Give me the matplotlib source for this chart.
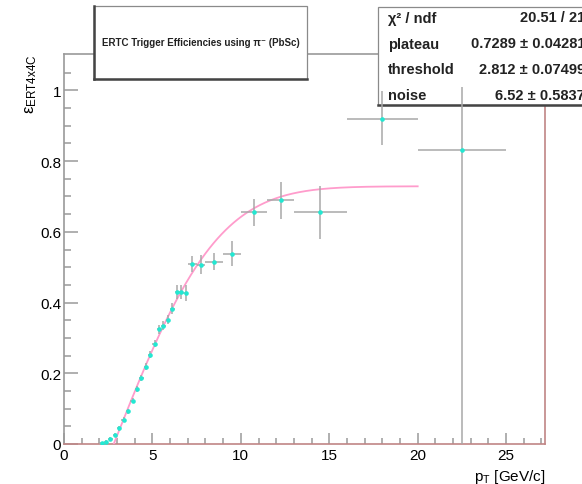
import numpy as np
import matplotlib; matplotlib.use("Agg")
import matplotlib.pyplot as plt
from matplotlib.patches import Rectangle
from matplotlib.lines import Line2D
from math import erf

plt.rcParams.update({"font.family": ["Liberation Sans", "DejaVu Sans"],
                     "mathtext.fontset": "custom", "mathtext.rm": "Liberation Sans",
                     "mathtext.it": "Liberation Sans:italic"})

# efficiency per pT bin (bin centre, half width, value, asymmetric errors)
pt = [2.125, 2.375, 2.625, 2.875, 3.125, 3.375, 3.625, 3.875, 4.125, 4.375,
      4.625, 4.875, 5.125, 5.375, 5.625, 5.875, 6.125, 6.375, 6.625, 6.875,
      7.25, 7.75, 8.5, 9.5, 10.75, 12.25, 14.5, 18.0, 22.5]
pt_err = [0.125] * 20 + [0.25, 0.25, 0.5, 0.5, 0.75, 0.75, 1.5, 2.0, 2.5]
eff = [0.002, 0.006, 0.014, 0.025, 0.044, 0.068, 0.092, 0.123, 0.155, 0.186,
       0.219, 0.252, 0.284, 0.324, 0.335, 0.352, 0.383, 0.430, 0.430, 0.427,
       0.510, 0.507, 0.515, 0.538, 0.655, 0.689, 0.655, 0.920, 0.831]
eff_lo = [0.002, 0.004, 0.005, 0.006, 0.006, 0.007, 0.008, 0.008, 0.009, 0.009,
          0.010, 0.010, 0.011, 0.012, 0.013, 0.013, 0.015, 0.021, 0.021, 0.023,
          0.023, 0.027, 0.024, 0.035, 0.038, 0.053, 0.075, 0.073, 0.831]
eff_hi = [0.003, 0.004, 0.005, 0.006, 0.006, 0.007, 0.008, 0.008, 0.009, 0.009,
          0.010, 0.010, 0.011, 0.012, 0.013, 0.013, 0.015, 0.021, 0.021, 0.023,
          0.023, 0.027, 0.024, 0.035, 0.038, 0.053, 0.075, 0.079, 0.179]

# fit result
chi2, ndf = 20.51, 21
plateau, plateau_err = 0.7289, 0.04281
threshold, threshold_err = 2.812, 0.07499
noise, noise_err = 6.52, 0.5837
fit_range = (threshold, 20.0)

W, H = 582, 485
fig = plt.figure(figsize=(W / 100, H / 100), dpi=100)
ax = fig.add_axes([64 / W, 1 - 445 / H, 481 / W, 390 / H])
ax.set_xlim(0, 27.2); ax.set_ylim(0, 1.103)

for s in ("left", "top"):
    ax.spines[s].set_color("#9a9a9a")
for s in ("bottom", "right"):
    ax.spines[s].set_color("#c08585")
for s in ax.spines.values():
    s.set_linewidth(1.2)

ax.set_xticks(np.arange(0, 26, 5)); ax.set_xticks(np.arange(0, 28, 1), minor=True)
ax.set_yticks(np.arange(0, 1.01, 0.2)); ax.set_yticks(np.arange(0, 1.1, 0.05), minor=True)
ax.set_yticklabels(["0", "0.2", "0.4", "0.6", "0.8", "1"])
ax.tick_params(which="both", direction="in", color="#9a9a9a", width=1.1, labelsize=11,
               top=False, right=False)
ax.tick_params(axis="y", which="major", length=10, pad=2)
ax.tick_params(axis="y", which="minor", length=5)
ax.tick_params(axis="x", which="major", length=8, pad=3)
ax.tick_params(axis="x", which="minor", length=4)

xf = np.linspace(*fit_range, 300)
yf = plateau * np.array([erf((v - threshold) / noise) for v in xf])
ax.plot(xf, yf, color="#ff9ccc", lw=1.3, zorder=3)

ax.errorbar(pt, eff, xerr=pt_err, yerr=[eff_lo, eff_hi], fmt="none", ecolor="#a8a8a8",
            elinewidth=1.1, capsize=0, zorder=5)
ax.plot(pt, eff, "o", color="#22e8d2", ms=3.3, mew=0, zorder=6)

fx = fig.transFigure
def box(x0, y0, x1, y1, thick):
    ax.add_patch(Rectangle((x0 / W, 1 - y1 / H), (x1 - x0) / W, (y1 - y0) / H, transform=fx,
                           facecolor="white", edgecolor="#8a8a8a", lw=0.9, clip_on=False, zorder=4))
    for (a, b), (c, d) in thick:
        ax.add_line(Line2D([a / W, c / W], [1 - b / H, 1 - d / H], transform=fx, color="#444",
                           lw=1.8, clip_on=False, zorder=4.5))

# title pave
box(94, 7, 307, 80, [((94, 7), (94, 80)), ((94, 80), (307, 80))])
ax.text(201 / W, 1 - 43 / H, "ERTC Trigger Efficiencies using π⁻ (PbSc)", transform=fx,
        ha="center", va="center", fontsize=7, fontweight="bold", color="#222", zorder=7)

# fit statistics pave
box(378, 8, 600, 106, [((378, 106), (600, 106))])
rows = [("χ² / ndf", f"{chi2:.2f} / {ndf}"),
        ("plateau", f"{plateau:.4f} ± {plateau_err:.5f}"),
        ("threshold", f"{threshold:.3f} ± {threshold_err:.5f}"),
        ("noise", f"{noise:.2f} ± {noise_err:.4f}")]
for (lab, val), yy in zip(rows, [18.5, 44.5, 70, 96]):
    ax.text(388 / W, 1 - yy / H, lab, transform=fx, ha="left", va="center",
            fontsize=10.5, fontweight="bold", color="#222", zorder=7)
    ax.text(585 / W, 1 - yy / H, val, transform=fx, ha="right", va="center",
            fontsize=10.5, fontweight="bold", color="#222", zorder=7)

fig.text(546 / W, 1 - 477 / H, r"p$_\mathregular{T}$ [GeV/c]", ha="right", va="center", fontsize=11)
fig.text(31 / W, 1 - 84 / H, r"$\mathregular{\epsilon_{ERT4x4C}}$", rotation=90,
         ha="center", va="center", fontsize=12)

fig.savefig("out.png", dpi=100)
